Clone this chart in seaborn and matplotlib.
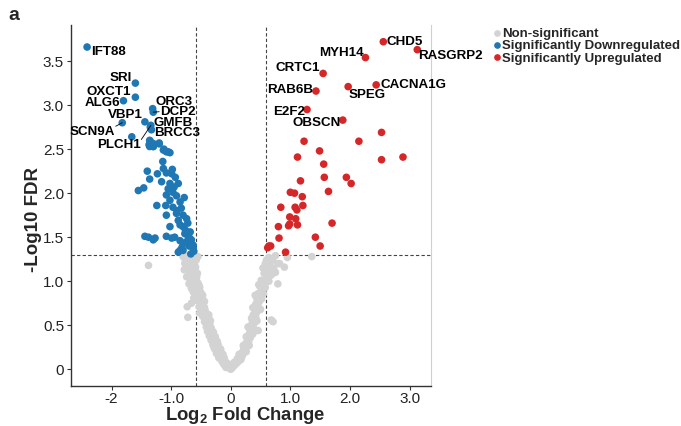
import matplotlib
matplotlib.use("Agg")
import matplotlib.pyplot as plt
import pandas as pd
import seaborn as sns
from matplotlib.lines import Line2D

sns.set_theme(style="white")
plt.rcParams["font.family"] = ["Liberation Sans", "DejaVu Sans"]
plt.rcParams["mathtext.fontset"] = "custom"
plt.rcParams["mathtext.rm"] = "Liberation Sans:bold"
plt.rcParams["mathtext.bf"] = "Liberation Sans:bold"
plt.rcParams["mathtext.it"] = "Liberation Sans:bold"

# ---------------- data ----------------
# labelled genes
down_genes = ["IFT88", "SRI", "OXCT1", "ALG6", "ORC3", "DCP2", "VBP1",
              "SCN9A", "GMFB", "BRCC3", "PLCH1"]
down_gene_fc = [-2.41, -1.60, -1.60, -1.80, -1.31, -1.30, -1.44,
                -1.82, -1.35, -1.33, -1.34]
down_gene_p = [3.66, 3.25, 3.09, 3.05, 2.96, 2.92, 2.81,
               2.80, 2.75, 2.72, 2.77]

up_genes = ["CHD5", "RASGRP2", "MYH14", "CRTC1", "CACNA1G", "SPEG",
            "RAB6B", "E2F2", "OBSCN"]
up_gene_fc = [2.56, 3.13, 2.26, 1.55, 2.44, 1.97, 1.43, 1.28, 1.88]
up_gene_p = [3.72, 3.63, 3.54, 3.36, 3.23, 3.21, 3.16, 2.95, 2.83]

# other significantly downregulated genes
down_fc = [-1.66, -1.36, -1.37, -1.30, -1.20, -1.12, -1.05,
           -1.35, -1.29, -1.20, -1.36, -1.30, -1.13, -1.08, -1.02,
           -1.14, -1.40, -1.13, -1.08, -0.98, -0.99, -1.23, -1.36,
           -1.16, -1.02, -0.88, -1.05, -1.55, -1.46, -0.97, -1.08,
           -0.91, -1.02, -0.85, -1.24, -1.09, -0.97, -0.83, -1.08,
           -0.91, -0.80, -0.88, -0.74, -0.85, -0.80, -1.02, -1.44,
           -1.38, -1.27, -1.30, -1.08, -0.99, -0.94, -0.77, -0.72,
           -0.69, -0.74, -0.85, -0.80, -0.66, -0.63, -0.85, -0.80,
           -0.88, -0.63, -0.62, -0.70, -0.95, -0.78, -0.90, -0.76,
           -0.68, -0.82, -0.93, -0.72, -0.67]
down_p = [2.64, 2.60, 2.55, 2.53, 2.57, 2.50, 2.47,
          2.59, 2.56, 2.56, 2.53, 2.53, 2.49, 2.47, 2.46,
          2.36, 2.25, 2.28, 2.23, 2.27, 2.22, 2.22, 2.16,
          2.13, 2.11, 2.11, 2.05, 2.03, 2.06, 2.01, 1.98,
          1.97, 1.92, 1.90, 1.86, 1.86, 1.84, 1.83, 1.75,
          1.77, 1.75, 1.69, 1.71, 1.64, 1.62, 1.62, 1.51,
          1.50, 1.49, 1.47, 1.51, 1.49, 1.50, 1.54, 1.52,
          1.49, 1.45, 1.46, 1.43, 1.47, 1.41, 1.35, 1.35,
          1.33, 1.37, 1.34, 1.40, 2.07, 1.95, 1.80, 1.58,
          1.56, 1.38, 2.18, 1.66, 1.31]

# other significantly upregulated genes
up_fc = [2.53, 2.15, 1.23, 1.49, 1.12, 2.53, 2.89, 1.56, 1.57,
         1.94, 2.02, 1.17, 1.64, 1.00, 1.07, 1.20, 0.84, 1.08,
         1.11, 1.21, 0.99, 1.09, 0.80, 0.97, 0.99, 1.12, 1.70,
         0.81, 1.42, 1.50, 0.64, 0.67, 0.62, 0.92]
up_p = [2.69, 2.59, 2.59, 2.48, 2.41, 2.38, 2.41, 2.33, 2.18,
        2.18, 2.11, 2.14, 2.02, 2.01, 2.00, 1.96, 1.84, 1.84,
        1.81, 1.86, 1.73, 1.71, 1.62, 1.63, 1.65, 1.64, 1.66,
        1.49, 1.50, 1.40, 1.40, 1.40, 1.38, 1.33]

# non-significant genes
ns_fc = [-0.60, -0.64, -0.70, -0.58, -0.76, -0.62, -0.67, -0.73, -0.59,
         -0.78, -0.65, -0.70, -0.56, -0.62, -0.74, -0.68, -0.58, -0.64,
         -0.55, -0.70, -0.61, -0.52, -0.66, -0.57, -0.63, -0.50, -0.59,
         -0.54, -0.62, -0.48, -0.56, -0.51, -0.73, -0.66, -0.72, -0.52,
         -0.46, -0.53, -0.49, -0.43, -0.50, -0.45, -0.40, -0.47, -0.42,
         -0.38, -0.44, -0.40, -0.35, -0.41, -0.37, -0.32, -0.39, -0.34,
         -0.29, -0.36, -0.31, -0.27, -0.33, -0.28, -0.24, -0.30, -0.25,
         -0.21, -0.27, -0.22, -0.18, -0.24, -0.19, -0.15, -0.20, -0.16,
         -0.12, -0.14, -0.10, -0.07, -0.11, -0.05, -0.03, -0.01, 0.00,
         -0.08, -0.55, -0.80, -0.77, -1.38, -0.68, -0.71, -0.60, -0.57,
         -0.53, -0.47, -0.44, -0.37, -0.34, -0.26, -0.23, -0.17, -0.13,
         -0.66, -0.61, -0.55, -0.49, -0.45, -0.42, -0.30, -0.21,
         -0.72, -0.66, -0.61, -0.69, -0.60, -0.66, -0.60, -0.57, -0.62,
         -0.53, -0.58, -0.52, -0.48, -0.44, -0.47, -0.43, -0.37, -0.41,
         -0.36, -0.33, -0.38, -0.29, -0.32, -0.26, -0.22, -0.28, -0.17,
         -0.21, -0.11, -0.09, -0.04,
         0.60, 0.64, 0.69, 0.79, 0.90, 0.58, 0.66, 0.72, 0.62, 0.56,
         0.68, 0.51, 0.60, 0.79, 0.55, 0.49, 0.58, 0.53, 0.46, 0.50,
         0.44, 0.48, 0.42, 0.46, 0.40, 0.44, 0.38, 0.42, 0.68, 0.71,
         0.36, 0.40, 0.34, 0.38, 0.46, 0.32, 0.35, 0.30, 0.33, 0.28,
         0.30, 0.25, 0.27, 0.22, 0.24, 0.19, 0.20, 0.16, 0.17, 0.13,
         0.10, 0.07, 0.04, 0.02, -0.05, 1.36, 0.95, 0.82, 0.70,
         0.75, 0.63, 0.54, 0.75, 0.64, 0.47, 0.55, 0.41, 0.52, 0.37,
         0.50, 0.35, 0.44, 0.29, 0.37, 0.26, 0.31, 0.21, 0.26, 0.14,
         0.18, 0.11, 0.06]
ns_p = [1.29, 1.27, 1.26, 1.24, 1.23, 1.21, 1.19, 1.17, 1.16,
        1.13, 1.12, 1.10, 1.09, 1.07, 1.05, 1.03, 1.02, 1.00,
        0.98, 0.97, 0.95, 0.93, 0.92, 0.90, 0.88, 0.87, 0.85,
        0.83, 0.81, 0.80, 0.78, 0.76, 0.71, 0.75, 0.59, 0.64,
        0.73, 0.71, 0.69, 0.67, 0.66, 0.63, 0.61, 0.60, 0.58,
        0.56, 0.54, 0.52, 0.50, 0.48, 0.46, 0.45, 0.43, 0.41,
        0.40, 0.38, 0.36, 0.34, 0.33, 0.31, 0.29, 0.28, 0.26,
        0.24, 0.23, 0.21, 0.19, 0.18, 0.16, 0.14, 0.13, 0.11,
        0.10, 0.08, 0.07, 0.05, 0.05, 0.03, 0.02, 0.01, 0.00,
        0.02, 1.28, 1.28, 1.20, 1.18, 1.30, 1.22, 1.14, 1.05,
        0.95, 0.84, 0.77, 0.62, 0.55, 0.37, 0.32, 0.22, 0.17,
        1.25, 0.99, 0.89, 0.74, 0.70, 0.62, 0.42, 0.27,
        1.29, 1.23, 1.18, 1.14, 1.10, 1.06, 0.99, 0.96, 0.92,
        0.88, 0.82, 0.79, 0.75, 0.70, 0.66, 0.62, 0.59, 0.55,
        0.52, 0.47, 0.44, 0.42, 0.39, 0.36, 0.30, 0.25, 0.23,
        0.17, 0.13, 0.09, 0.06,
        1.24, 1.27, 1.25, 1.20, 1.16, 1.20, 1.18, 1.14, 1.12, 1.09,
        1.07, 1.01, 1.04, 0.97, 0.98, 0.94, 0.93, 0.90, 0.86, 0.83,
        0.80, 0.77, 0.74, 0.71, 0.68, 0.65, 0.62, 0.59, 0.56, 0.54,
        0.56, 0.53, 0.50, 0.47, 0.44, 0.45, 0.42, 0.39, 0.36, 0.34,
        0.31, 0.29, 0.26, 0.24, 0.21, 0.19, 0.16, 0.14, 0.11, 0.09,
        0.07, 0.05, 0.03, 0.015, 0.06, 1.28, 1.27, 1.20, 1.24,
        1.29, 1.22, 1.15, 1.10, 1.00, 0.96, 0.86, 0.84, 0.80, 0.70,
        0.68, 0.58, 0.55, 0.48, 0.40, 0.37, 0.27, 0.27, 0.20, 0.17,
        0.13, 0.12, 0.08]

status_names = ["Non-significant", "Significantly Downregulated",
                "Significantly Upregulated"]
status_colors = ["#d3d3d3", "#1f77b4", "#d62728"]

x_ticks = [-2, -1, 0, 1, 2, 3]
x_tick_labels = ["-2", "-1.0", "0", "1.0", "2.0", "3.0"]
y_ticks = [0, 0.5, 1.0, 1.5, 2.0, 2.5, 3.0, 3.5]
y_tick_labels = ["0", "0.5", "1.0", "1.5", "2.0", "2.5", "3.0", "3.5"]

fc_cut = 0.585
fdr_cut = 1.301

# ---------------- table ----------------
frames = [
    pd.DataFrame({"log2fc": ns_fc, "nlp": ns_p, "status": status_names[0]}),
    pd.DataFrame({"log2fc": down_fc + down_gene_fc,
                  "nlp": down_p + down_gene_p, "status": status_names[1]}),
    pd.DataFrame({"log2fc": up_fc + up_gene_fc,
                  "nlp": up_p + up_gene_p, "status": status_names[2]}),
]
df = pd.concat(frames, ignore_index=True)

# ---------------- figure ----------------
fig = plt.figure(figsize=(6.81, 4.26), dpi=100)
ax = fig.add_axes([71 / 681, 1 - 386 / 426, 360 / 681, 361 / 426])

sns.scatterplot(data=df, x="log2fc", y="nlp", hue="status",
                hue_order=status_names,
                palette=dict(zip(status_names, status_colors)),
                s=30, linewidth=0, legend=False, ax=ax, zorder=3)

ax.axhline(fdr_cut, color="#444444", lw=0.8, ls=(0, (3, 2)), zorder=2)
ax.axvline(-fc_cut, color="#444444", lw=0.8, ls=(0, (3, 2)), zorder=2)
ax.axvline(fc_cut, color="#444444", lw=0.8, ls=(0, (3, 2)), zorder=2)

ax.set_xlim(-2.68, 3.36)
ax.set_ylim(-0.19, 3.91)
ax.set_xticks(x_ticks)
ax.set_xticklabels(x_tick_labels)
ax.set_yticks(y_ticks)
ax.set_yticklabels(y_tick_labels)
ax.tick_params(bottom=True, left=True, direction="out", length=3,
               width=0.8, color="#333333", labelsize=11,
               labelcolor="#222222", pad=2)
ax.tick_params(axis="x", pad=1)

for side in ["left", "bottom"]:
    ax.spines[side].set_color("#333333")
    ax.spines[side].set_linewidth(1.0)
ax.spines["right"].set_color("#d0d0d0")
ax.spines["right"].set_linewidth(0.8)
ax.spines["top"].set_visible(False)

ax.set_xlabel("Log$_{2}$ Fold Change", fontsize=13.3, fontweight="bold")
ax.set_ylabel("-Log10 FDR", fontsize=13.5, fontweight="bold")
ax.xaxis.set_label_coords(0.483, -0.054)
ax.yaxis.set_label_coords(-0.08, 0.46)

# gene labels: (text x, text y, alignment)
label_pos = {
    "IFT88": (-2.35, 3.60, "left"),
    "SRI": (-1.65, 3.31, "right"),
    "OXCT1": (-1.68, 3.15, "right"),
    "ALG6": (-1.85, 3.02, "right"),
    "ORC3": (-1.27, 3.03, "left"),
    "DCP2": (-1.19, 2.92, "left"),
    "VBP1": (-1.47, 2.89, "right"),
    "SCN9A": (-1.94, 2.70, "right"),
    "GMFB": (-1.29, 2.80, "left"),
    "BRCC3": (-1.29, 2.68, "left"),
    "PLCH1": (-1.50, 2.55, "right"),
    "CHD5": (2.62, 3.72, "left"),
    "RASGRP2": (3.15, 3.56, "left"),
    "MYH14": (2.23, 3.59, "right"),
    "CRTC1": (1.50, 3.42, "right"),
    "CACNA1G": (2.51, 3.23, "left"),
    "SPEG": (1.97, 3.12, "left"),
    "RAB6B": (1.38, 3.17, "right"),
    "E2F2": (1.24, 2.92, "right"),
    "OBSCN": (1.84, 2.80, "right"),
}
# genes whose label is joined to its point by a segment (segment start)
segment_start = {
    "SCN9A": (-1.93, 2.76),
    "PLCH1": (-1.50, 2.61),
    "DCP2": (-1.20, 2.925),
}

gene_xy = dict(zip(down_genes + up_genes,
                   zip(down_gene_fc + up_gene_fc, down_gene_p + up_gene_p)))
for gene, (tx, ty, ha) in label_pos.items():
    ax.text(tx, ty, gene, ha=ha, va="center", fontsize=9.6,
            fontweight="bold", color="black", zorder=5)
for gene, (sx, sy) in segment_start.items():
    gx, gy = gene_xy[gene]
    ax.plot([sx, gx], [sy, gy], color="black", lw=0.6, zorder=4)

handles = [Line2D([], [], marker="o", ls="", color=c, markersize=3.8)
           for c in status_colors]
fig.legend(handles, status_names, loc="upper left",
           bbox_to_anchor=(494 / 681, 1 - 28 / 426), frameon=False,
           prop={"weight": "bold", "size": 9.5}, handlelength=0.5,
           handletextpad=0.1, labelspacing=0.0, borderpad=0,
           borderaxespad=0)

fig.text(8 / 681, 1 - 16 / 426, "a", fontsize=14, fontweight="bold",
         va="center", ha="left")

fig.savefig("out.png", dpi=100)
